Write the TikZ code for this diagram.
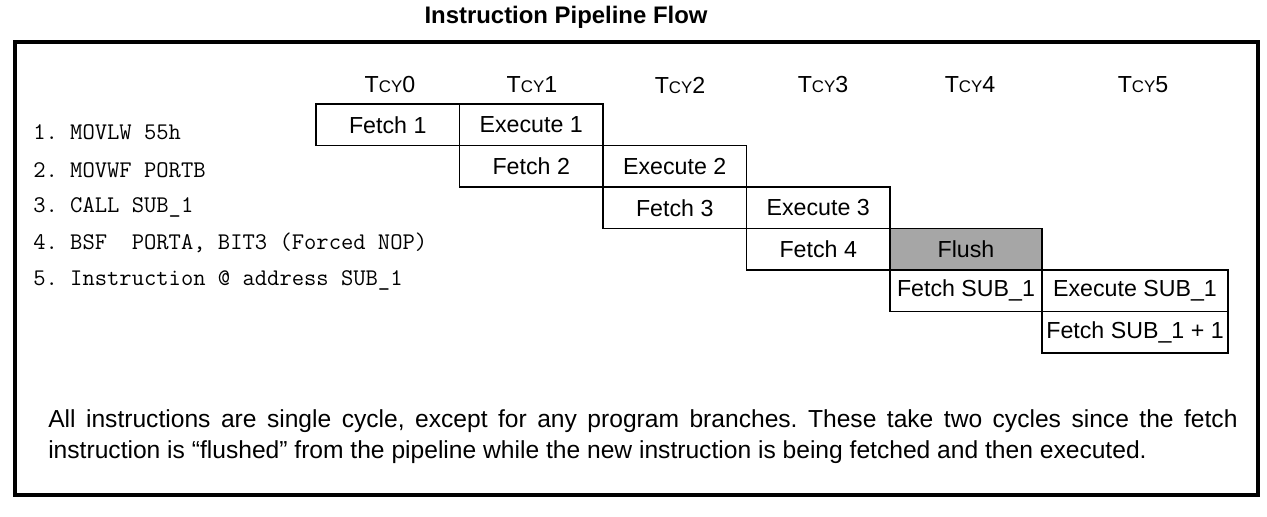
\documentclass[tikz,border=0pt]{standalone}
\usepackage{fontspec}
\setmainfont{Liberation Sans}
\usepackage{tikz}
\frenchspacing

\tikzset{
  stage/.style={draw, line width=0.9pt, minimum height=1.0375cm, inner sep=0pt,
    font=\fontsize{16.5}{18}\selectfont},
  cyclabel/.style={font=\fontsize{16.5}{18}\selectfont},
  codeline/.style={anchor=west, inner sep=0pt, font=\ttfamily\fontsize{17}{19}\selectfont},
}
\newcommand{\tcy}[1]{T{\fontsize{12}{12}\selectfont CY}#1}

\begin{document}
\begin{tikzpicture}[x=0.025cm, y=-0.025cm]
  \useasboundingbox (0,0) rectangle (1267,517);
  \node[font=\bfseries\fontsize{17}{19}\selectfont] (title) at (566,17) {Instruction Pipeline Flow};
  \draw[line width=2.4pt] (15,42) rectangle (1258,495);
  % cycles
  \node[cyclabel] (tcy0) at (390,85) {\tcy0};
  \node[cyclabel] (tcy1) at (532,85) {\tcy1};
  \node[cyclabel] (tcy2) at (680,85) {\tcy2};
  \node[cyclabel] (tcy3) at (823,85) {\tcy3};
  \node[cyclabel] (tcy4) at (970,85) {\tcy4};
  \node[cyclabel] (tcy5) at (1143,85) {\tcy5};
  % program
  \node[codeline] (ins1) at (33,132) {1. MOVLW 55h};
  \node[codeline] (ins2) at (33,170) {2. MOVWF PORTB};
  \node[codeline] (ins3) at (33,207) {3. CALL SUB\_1};
  \node[codeline] (ins4) at (33,243) {4. BSF\ \ PORTA, BIT3 (Forced NOP)};
  \node[codeline] (ins5) at (33,280) {5. Instruction @ address SUB\_1};
  % pipeline
  \node[stage, minimum width=3.5875cm] (fetch1) at (387.75,124.75) {Fetch 1};
  \node[stage, minimum width=3.5875cm] (exec1) at (531.25,124.75) {Execute 1};
  \node[stage, minimum width=3.5875cm] (fetch2) at (531.25,166.25) {Fetch 2};
  \node[stage, minimum width=3.5875cm] (exec2) at (674.75,166.25) {Execute 2};
  \node[stage, minimum width=3.5875cm] (fetch3) at (674.75,207.75) {Fetch 3};
  \node[stage, minimum width=3.5875cm] (exec3) at (818.25,207.75) {Execute 3};
  \node[stage, minimum width=3.5875cm] (fetch4) at (818.25,249.25) {Fetch 4};
  \node[stage, minimum width=3.8cm, fill=black!35] (flush) at (966,249.25) {Flush};
  \node[stage, minimum width=3.8cm] (fetchsub) at (966,290.75) {Fetch SUB\_1};
  \node[stage, minimum width=4.65cm] (execsub) at (1135,290.75) {Execute SUB\_1};
  \node[stage, minimum width=4.65cm] (fetchnext) at (1135,332.25) {Fetch SUB\_1 + 1};
  % note
  \node[anchor=north west, inner sep=0pt, text width=29.725cm, align=justify,
    font=\fontsize{17.5}{22}\selectfont] (note) at (48,409)
    {All instructions are single cycle, except for any program branches. These take two cycles since the fetch\linebreak
     instruction is “flushed” from the pipeline while the new instruction is being fetched and then executed.};
\end{tikzpicture}
\end{document}
